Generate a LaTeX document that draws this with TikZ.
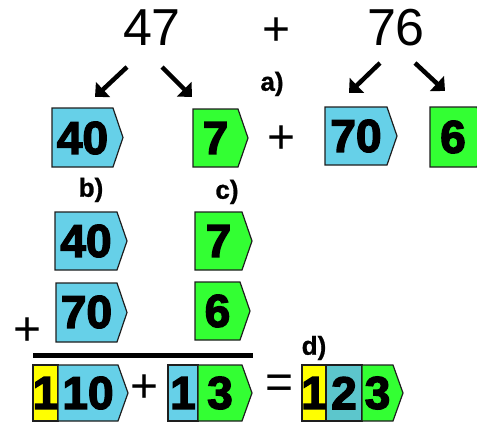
\documentclass[tikz,border=0pt]{standalone}
\usepackage{fontspec}
\setmainfont{Liberation Sans}
\newfontfamily\heavy{Liberation Sans Bold}[FakeBold=3]
\newfontfamily\labfont{Liberation Sans Bold}[FakeBold=1]
\usetikzlibrary{arrows.meta}
\definecolor{cblue}{RGB}{102,208,232}
\definecolor{cteal}{RGB}{92,198,204}
\definecolor{cgreen}{RGB}{51,255,51}
\definecolor{cyellow}{RGB}{255,255,0}
\definecolor{boxline}{RGB}{30,30,30}
% tip segment: x0, x1 (tip), y0, y1, colour
\newcommand\tipseg[5]{%
  \filldraw[fill=#5, draw=boxline, line width=1.2pt]
    (#1,#3) -- (#2-10,#3) -- (#2,{(#3+#4)/2}) -- (#2-10,#4) -- (#1,#4) -- cycle;}
% plain segment: x0, x1, y0, y1, colour
\newcommand\rectseg[5]{%
  \filldraw[fill=#5, draw=boxline, line width=1.2pt] (#1,#3) rectangle (#2,#4);}
\begin{document}
\begin{tikzpicture}[x=1pt,y=-1pt,
  digit/.style={font=\heavy\fontsize{46}{46}\selectfont, inner sep=0pt},
  big/.style={font=\fontsize{52}{52}\selectfont, inner sep=0pt},
  sign/.style={font=\fontsize{48}{48}\selectfont, inner sep=0pt},
  lab/.style={font=\labfont\fontsize{26}{26}\selectfont, inner sep=0pt},
  arr/.style={line width=4.5pt, -{Triangle[length=11pt,width=20pt]}}]
\useasboundingbox (0,0) rectangle (477,423);
\clip (0,0) rectangle (477,423);

% top numbers
\node[big] (n47) at (152,28) {47};
\node[sign] (ptop) at (277,32) {+};
\node[big] (n76) at (396,28) {76};
\node[lab] (la) at (272,84) {a)};

% arrows
\coordinate (a1s) at (127,67); \coordinate (a1e) at (95,97);
\coordinate (a2s) at (162,67); \coordinate (a2e) at (192,97);
\coordinate (a3s) at (380,63); \coordinate (a3e) at (349,93);
\coordinate (a4s) at (415,63); \coordinate (a4e) at (445,91);
\draw[arr] (a1s) -- (a1e);
\draw[arr] (a2s) -- (a2e);
\draw[arr] (a3s) -- (a3e);
\draw[arr] (a4s) -- (a4e);

% row 1
\tipseg{52}{123}{108}{167}{cblue}
\node[digit] (r1a) at (82.5,138) {40};
\tipseg{193}{248}{109}{167}{cgreen}
\node[digit] (r1b) at (215.5,138) {7};
\node[sign] (p1) at (282,140) {+};
\tipseg{325}{397}{107}{165}{cblue}
\node[digit] (r1c) at (356,136) {70};
\tipseg{430}{487}{107}{167}{cgreen}
\node[digit] (r1d) at (453,137) {6};

% labels b) c)
\node[lab] (lb) at (91,190) {b)};
\node[lab] (lc) at (227,192) {c)};

% row 2
\tipseg{55}{127}{212}{270}{cblue}
\node[digit] (r2a) at (86,241) {40};
\tipseg{195}{252}{212}{270}{cgreen}
\node[digit] (r2b) at (218.5,241) {7};

% row 3
\node[sign] (p3) at (28,332) {+};
\tipseg{56}{127}{283}{342}{cblue}
\node[digit] (r3a) at (86.5,312) {70};
\tipseg{195}{250}{282}{340}{cgreen}
\node[digit] (r3b) at (217.5,311) {6};

% sum line
\coordinate (ls) at (33,355); \coordinate (le) at (253,355);
\draw[line width=5pt] (ls) -- (le);

% row 4
\rectseg{33}{58}{365}{421}{cyellow}
\tipseg{58}{128}{365}{421}{cblue}
\node[digit] (r4a) at (45.5,393) {1};
\node[digit] (r4b) at (88,393) {10};
\node[sign] (p4) at (145,389) {+};
\rectseg{168}{198}{365}{421}{cblue}
\tipseg{198}{252}{365}{421}{cgreen}
\node[digit] (r4c) at (183,393) {1};
\node[digit] (r4d) at (220,393) {3};
\node[sign] (eq) at (280,387) {=};
\node[lab] (ld) at (314,348) {d)};
\rectseg{302}{326}{365}{421}{cyellow}
\rectseg{326}{362}{365}{421}{cteal}
\tipseg{362}{403}{365}{421}{cgreen}
\node[digit] (r4e) at (314,393) {1};
\node[digit] (r4f) at (344,393) {2};
\node[digit] (r4g) at (377.5,393) {3};
\end{tikzpicture}
\end{document}
